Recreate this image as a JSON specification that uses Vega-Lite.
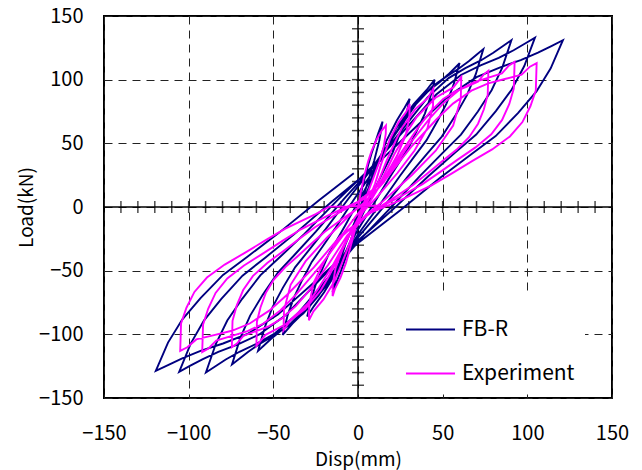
{
  "$schema": "https://vega.github.io/schema/vega-lite/v6.json",
  "width": 508,
  "height": 382,
  "autosize": {"type": "none"},
  "padding": {"left": 104, "top": 16, "right": 30, "bottom": 72},
  "background": "white",
  "config": {
    "view": {"stroke": "black", "strokeWidth": 2},
    "font": "Noto Sans CJK JP"
  },
  "datasets": {
    "curves": [
      {"s":"FB-R","x":0,"y":0},{"s":"FB-R","x":2,"y":12},{"s":"FB-R","x":4,"y":23},{"s":"FB-R","x":6,"y":33},{"s":"FB-R","x":8,"y":42},{"s":"FB-R","x":10,"y":50},{"s":"FB-R","x":12,"y":58},{"s":"FB-R","x":14.5,"y":67},
      {"s":"FB-R","x":12.6,"y":52.3},{"s":"FB-R","x":9.6,"y":36.5},{"s":"FB-R","x":5.65,"y":19.1},{"s":"FB-R","x":-0.25,"y":-7.4},{"s":"FB-R","x":-6.15,"y":-35.5},{"s":"FB-R","x":-10.1,"y":-50.4},{"s":"FB-R","x":-13.1,"y":-60.2},{"s":"FB-R","x":-15,"y":-67},
      {"s":"FB-R","x":-13.6,"y":-57},{"s":"FB-R","x":-12,"y":-48.2},{"s":"FB-R","x":-7.5,"y":-29.6},{"s":"FB-R","x":-1.35,"y":-10},{"s":"FB-R","x":7.75,"y":19.9},{"s":"FB-R","x":16.85,"y":52.2},{"s":"FB-R","x":23,"y":68.1},{"s":"FB-R","x":27.5,"y":77.9},{"s":"FB-R","x":30.5,"y":85},
      {"s":"FB-R","x":28.7,"y":73.7},{"s":"FB-R","x":26.6,"y":63.9},{"s":"FB-R","x":20.5,"y":42.9},{"s":"FB-R","x":12.35,"y":20.9},{"s":"FB-R","x":0.25,"y":-12.7},{"s":"FB-R","x":-11.85,"y":-49.1},{"s":"FB-R","x":-20,"y":-67},{"s":"FB-R","x":-26.1,"y":-78},{"s":"FB-R","x":-30,"y":-86},
      {"s":"FB-R","x":-27.7,"y":-72.8},{"s":"FB-R","x":-25.1,"y":-61.4},{"s":"FB-R","x":-17.6,"y":-37.8},{"s":"FB-R","x":-7.4,"y":-14.2},{"s":"FB-R","x":7.65,"y":22.3},{"s":"FB-R","x":22.7,"y":62.3},{"s":"FB-R","x":32.9,"y":80.8},{"s":"FB-R","x":40.4,"y":91.7},{"s":"FB-R","x":45.3,"y":100},
      {"s":"FB-R","x":42.6,"y":85.8},{"s":"FB-R","x":39.5,"y":73.4},{"s":"FB-R","x":30.5,"y":48.1},{"s":"FB-R","x":18.4,"y":22.6},{"s":"FB-R","x":0.4,"y":-16.8},{"s":"FB-R","x":-17.6,"y":-59.9},{"s":"FB-R","x":-29.7,"y":-79.8},{"s":"FB-R","x":-38.7,"y":-91.6},{"s":"FB-R","x":-44.5,"y":-100.5},
      {"s":"FB-R","x":-41.4,"y":-84.3},{"s":"FB-R","x":-37.7,"y":-70.7},{"s":"FB-R","x":-33,"y":-57.5},{"s":"FB-R","x":-27.3,"y":-43.1},{"s":"FB-R","x":-21,"y":-31.2},{"s":"FB-R","x":-13.15,"y":-16.1},{"s":"FB-R","x":-2.7,"y":5.3},{"s":"FB-R","x":7.75,"y":25.7},{"s":"FB-R","x":18.2,"y":48.9},{"s":"FB-R","x":28.65,"y":72},{"s":"FB-R","x":36.5,"y":85.1},{"s":"FB-R","x":42.8,"y":92.4},{"s":"FB-R","x":48.5,"y":98.4},{"s":"FB-R","x":53.2,"y":104},{"s":"FB-R","x":56.9,"y":108.8},{"s":"FB-R","x":60,"y":113},
      {"s":"FB-R","x":56.4,"y":95.9},{"s":"FB-R","x":52.3,"y":81.4},{"s":"FB-R","x":46.9,"y":67.5},{"s":"FB-R","x":40.4,"y":52.3},{"s":"FB-R","x":33.2,"y":39.6},{"s":"FB-R","x":24.3,"y":23.6},{"s":"FB-R","x":12.4,"y":1},{"s":"FB-R","x":0.5,"y":-20.6},{"s":"FB-R","x":-11.4,"y":-45.1},{"s":"FB-R","x":-23.3,"y":-69.6},{"s":"FB-R","x":-32.2,"y":-83.4},{"s":"FB-R","x":-39.4,"y":-91.2},{"s":"FB-R","x":-45.9,"y":-97.5},{"s":"FB-R","x":-51.3,"y":-103.5},{"s":"FB-R","x":-55.4,"y":-108.6},{"s":"FB-R","x":-59,"y":-113},
      {"s":"FB-R","x":-55,"y":-94.2},{"s":"FB-R","x":-50.4,"y":-78.4},{"s":"FB-R","x":-44.4,"y":-63.5},{"s":"FB-R","x":-37.05,"y":-47.2},{"s":"FB-R","x":-29.1,"y":-34.1},{"s":"FB-R","x":-19.1,"y":-17.4},{"s":"FB-R","x":-5.8,"y":6.3},{"s":"FB-R","x":7.5,"y":29},{"s":"FB-R","x":20.8,"y":54.8},{"s":"FB-R","x":34.1,"y":80.6},{"s":"FB-R","x":44.1,"y":94.8},{"s":"FB-R","x":52.1,"y":102.4},{"s":"FB-R","x":59.4,"y":108.6},{"s":"FB-R","x":65.4,"y":114.5},{"s":"FB-R","x":70,"y":119.6},{"s":"FB-R","x":74,"y":124},
      {"s":"FB-R","x":69.55,"y":104.3},{"s":"FB-R","x":64.35,"y":87.85},{"s":"FB-R","x":57.7,"y":72.25},{"s":"FB-R","x":49.5,"y":55.3},{"s":"FB-R","x":40.6,"y":41.55},{"s":"FB-R","x":29.5,"y":24.1},{"s":"FB-R","x":14.6,"y":-0.7},{"s":"FB-R","x":-0.2,"y":-24.3},{"s":"FB-R","x":-15,"y":-51.3},{"s":"FB-R","x":-29.9,"y":-78.3},{"s":"FB-R","x":-41,"y":-93.1},{"s":"FB-R","x":-49.9,"y":-101.1},{"s":"FB-R","x":-58.1,"y":-107.5},{"s":"FB-R","x":-64.8,"y":-113.6},{"s":"FB-R","x":-69.9,"y":-119},{"s":"FB-R","x":-74.4,"y":-123.6},
      {"s":"FB-R","x":-69.45,"y":-102.65},{"s":"FB-R","x":-63.7,"y":-85.3},{"s":"FB-R","x":-56.25,"y":-69},{"s":"FB-R","x":-47.2,"y":-51.3},{"s":"FB-R","x":-37.3,"y":-37.3},{"s":"FB-R","x":-24.9,"y":-19.4},{"s":"FB-R","x":-8.4,"y":6.1},{"s":"FB-R","x":8.1,"y":30.3},{"s":"FB-R","x":24.6,"y":58.2},{"s":"FB-R","x":41.1,"y":86.1},{"s":"FB-R","x":53.5,"y":101.2},{"s":"FB-R","x":63.4,"y":109},{"s":"FB-R","x":72.5,"y":115.1},{"s":"FB-R","x":79.9,"y":121.1},{"s":"FB-R","x":85.65,"y":126.4},{"s":"FB-R","x":90.6,"y":131},
      {"s":"FB-R","x":85.2,"y":109.5},{"s":"FB-R","x":78.9,"y":91.7},{"s":"FB-R","x":70.8,"y":75},{"s":"FB-R","x":60.8,"y":56.9},{"s":"FB-R","x":50,"y":42.5},{"s":"FB-R","x":36.5,"y":24.2},{"s":"FB-R","x":18.4,"y":-1.9},{"s":"FB-R","x":0.4,"y":-26.8},{"s":"FB-R","x":-17.6,"y":-55.4},{"s":"FB-R","x":-35.7,"y":-83.9},{"s":"FB-R","x":-49.2,"y":-99.4},{"s":"FB-R","x":-60,"y":-107.4},{"s":"FB-R","x":-70,"y":-113.7},{"s":"FB-R","x":-78.1,"y":-119.8},{"s":"FB-R","x":-84.4,"y":-125.3},{"s":"FB-R","x":-89.8,"y":-130},
      {"s":"FB-R","x":-84,"y":-107.6},{"s":"FB-R","x":-77.2,"y":-89.2},{"s":"FB-R","x":-68.4,"y":-72.1},{"s":"FB-R","x":-57.7,"y":-53.7},{"s":"FB-R","x":-46.1,"y":-39.3},{"s":"FB-R","x":-31.5,"y":-20.9},{"s":"FB-R","x":-12.1,"y":5.4},{"s":"FB-R","x":7.35,"y":30.4},{"s":"FB-R","x":26.8,"y":59.4},{"s":"FB-R","x":46.2,"y":88.3},{"s":"FB-R","x":60.8,"y":103.7},{"s":"FB-R","x":72.4,"y":111.3},{"s":"FB-R","x":83.1,"y":117.2},{"s":"FB-R","x":91.9,"y":123.1},{"s":"FB-R","x":98.7,"y":128.4},{"s":"FB-R","x":104.5,"y":133},
      {"s":"FB-R","x":98.2,"y":110.7},{"s":"FB-R","x":90.8,"y":92.3},{"s":"FB-R","x":81.4,"y":75.3},{"s":"FB-R","x":69.8,"y":56.9},{"s":"FB-R","x":57.2,"y":42.5},{"s":"FB-R","x":41.5,"y":24.1},{"s":"FB-R","x":20.5,"y":-2.1},{"s":"FB-R","x":-0.55,"y":-27.1},{"s":"FB-R","x":-21.6,"y":-55.9},{"s":"FB-R","x":-42.6,"y":-84.8},{"s":"FB-R","x":-58.3,"y":-100.1},{"s":"FB-R","x":-70.9,"y":-107.8},{"s":"FB-R","x":-82.5,"y":-113.7},{"s":"FB-R","x":-91.9,"y":-119.6},{"s":"FB-R","x":-99.3,"y":-124.8},{"s":"FB-R","x":-105.6,"y":-129.4},
      {"s":"FB-R","x":-98.8,"y":-107.3},{"s":"FB-R","x":-90.9,"y":-89},{"s":"FB-R","x":-80.7,"y":-72.1},{"s":"FB-R","x":-68.2,"y":-53.9},{"s":"FB-R","x":-54.6,"y":-39.6},{"s":"FB-R","x":-37.6,"y":-21.3},{"s":"FB-R","x":-15,"y":4.7},{"s":"FB-R","x":7.7,"y":29.4},{"s":"FB-R","x":30.4,"y":58.1},{"s":"FB-R","x":53,"y":86.7},{"s":"FB-R","x":70,"y":102},{"s":"FB-R","x":83.6,"y":109.5},{"s":"FB-R","x":96.1,"y":115.4},{"s":"FB-R","x":106.3,"y":121.2},{"s":"FB-R","x":114.2,"y":126.4},{"s":"FB-R","x":121,"y":131},
      {"s":"FB-R","x":113.8,"y":108.9},{"s":"FB-R","x":105.4,"y":90.8},{"s":"FB-R","x":94.6,"y":73.9},{"s":"FB-R","x":81.3,"y":55.7},{"s":"FB-R","x":66.9,"y":41.4},{"s":"FB-R","x":48.9,"y":23.3},{"s":"FB-R","x":24.8,"y":-2.7},{"s":"FB-R","x":0.8,"y":-27.4},{"s":"FB-R","x":-23.2,"y":-55.9},{"s":"FB-R","x":-47.3,"y":-84.5},{"s":"FB-R","x":-65.3,"y":-99.7},{"s":"FB-R","x":-79.7,"y":-107.2},{"s":"FB-R","x":-93,"y":-113},{"s":"FB-R","x":-103.8,"y":-118.9},{"s":"FB-R","x":-112.2,"y":-124.1},{"s":"FB-R","x":-119.4,"y":-128.6},
      {"s":"FB-R","x":-112.2,"y":-106.5},{"s":"FB-R","x":-103.8,"y":-88.4},{"s":"FB-R","x":-93,"y":-71.5},{"s":"FB-R","x":-79.7,"y":-53.3},{"s":"FB-R","x":-65.3,"y":-39},{"s":"FB-R","x":-47.3,"y":-20.9},{"s":"FB-R","x":-23.2,"y":5.1},{"s":"FB-R","x":-2.5,"y":26.5},

      {"s":"Experiment","x":0,"y":0},{"s":"Experiment","x":2,"y":14},{"s":"Experiment","x":4,"y":26},{"s":"Experiment","x":6,"y":36},{"s":"Experiment","x":8,"y":44},{"s":"Experiment","x":11,"y":53},{"s":"Experiment","x":14,"y":60},{"s":"Experiment","x":16.5,"y":64},
      {"s":"Experiment","x":16.4,"y":57.5},{"s":"Experiment","x":15.2,"y":47.6},{"s":"Experiment","x":12.6,"y":35.5},{"s":"Experiment","x":8.9,"y":22.1},{"s":"Experiment","x":4.5,"y":6.7},{"s":"Experiment","x":1.85,"y":-2},{"s":"Experiment","x":-0.8,"y":-13.05},{"s":"Experiment","x":-3.2,"y":-25.4},{"s":"Experiment","x":-5.55,"y":-36.8},{"s":"Experiment","x":-7.1,"y":-43.9},{"s":"Experiment","x":-10.4,"y":-55.6},{"s":"Experiment","x":-13.6,"y":-64.3},{"s":"Experiment","x":-15,"y":-70},
      {"s":"Experiment","x":-14.9,"y":-60.55},{"s":"Experiment","x":-13.2,"y":-47.8},{"s":"Experiment","x":-9.3,"y":-33.9},{"s":"Experiment","x":-4.1,"y":-19.5},{"s":"Experiment","x":2.3,"y":-3.3},{"s":"Experiment","x":6.2,"y":5.6},{"s":"Experiment","x":10,"y":18},{"s":"Experiment","x":13.4,"y":32.7},{"s":"Experiment","x":16.85,"y":46},{"s":"Experiment","x":19.1,"y":54},{"s":"Experiment","x":23.9,"y":66.5},{"s":"Experiment","x":28.5,"y":74.7},{"s":"Experiment","x":30.5,"y":81},
      {"s":"Experiment","x":30.35,"y":70.4},{"s":"Experiment","x":28.1,"y":56},{"s":"Experiment","x":23.1,"y":40.4},{"s":"Experiment","x":16.2,"y":24.2},{"s":"Experiment","x":7.9,"y":5.9},{"s":"Experiment","x":2.8,"y":-4.1},{"s":"Experiment","x":-2.2,"y":-18},{"s":"Experiment","x":-6.7,"y":-34.7},{"s":"Experiment","x":-11.15,"y":-49.6},{"s":"Experiment","x":-14.1,"y":-58.7},{"s":"Experiment","x":-20.4,"y":-72.6},{"s":"Experiment","x":-26.3,"y":-81.9},{"s":"Experiment","x":-29,"y":-89},
      {"s":"Experiment","x":-28.8,"y":-75.9},{"s":"Experiment","x":-26.1,"y":-59.2},{"s":"Experiment","x":-19.8,"y":-42.4},{"s":"Experiment","x":-11.4,"y":-25.5},{"s":"Experiment","x":-1.1,"y":-6.9},{"s":"Experiment","x":5.2,"y":3.1},{"s":"Experiment","x":11.4,"y":17.9},{"s":"Experiment","x":16.9,"y":36.4},{"s":"Experiment","x":22.45,"y":52.7},{"s":"Experiment","x":26.1,"y":62.5},{"s":"Experiment","x":33.8,"y":76.9},{"s":"Experiment","x":41.2,"y":85.5},{"s":"Experiment","x":44.5,"y":93},
      {"s":"Experiment","x":44.3,"y":79.3},{"s":"Experiment","x":41,"y":61.9},{"s":"Experiment","x":33.4,"y":44.3},{"s":"Experiment","x":23.3,"y":26.7},{"s":"Experiment","x":10.9,"y":7.3},{"s":"Experiment","x":3.35,"y":-3.2},{"s":"Experiment","x":-4.2,"y":-18.6},{"s":"Experiment","x":-10.8,"y":-37.9},{"s":"Experiment","x":-17.45,"y":-55},{"s":"Experiment","x":-21.9,"y":-65.2},{"s":"Experiment","x":-31.2,"y":-80.1},{"s":"Experiment","x":-40,"y":-89.2},{"s":"Experiment","x":-44,"y":-97},
      {"s":"Experiment","x":-43.7,"y":-80.9},{"s":"Experiment","x":-39.8,"y":-61.1},{"s":"Experiment","x":-30.9,"y":-42.5},{"s":"Experiment","x":-18.8,"y":-24.7},{"s":"Experiment","x":-4.1,"y":-5.3},{"s":"Experiment","x":4.8,"y":4.8},{"s":"Experiment","x":13.75,"y":20.9},{"s":"Experiment","x":21.6,"y":41.8},{"s":"Experiment","x":29.5,"y":60.1},{"s":"Experiment","x":34.75,"y":70.9},{"s":"Experiment","x":45.8,"y":85.8},{"s":"Experiment","x":56.3,"y":93.9},{"s":"Experiment","x":61,"y":102},
      {"s":"Experiment","x":60.7,"y":84.9},{"s":"Experiment","x":56.2,"y":64},{"s":"Experiment","x":45.9,"y":44.2},{"s":"Experiment","x":32,"y":25.3},{"s":"Experiment","x":15,"y":4.8},{"s":"Experiment","x":4.7,"y":-6},{"s":"Experiment","x":-5.55,"y":-23},{"s":"Experiment","x":-14.6,"y":-45.1},{"s":"Experiment","x":-23.7,"y":-64.5},{"s":"Experiment","x":-29.75,"y":-76},{"s":"Experiment","x":-42.5,"y":-91.9},{"s":"Experiment","x":-54.6,"y":-100.4},{"s":"Experiment","x":-60,"y":-109},
      {"s":"Experiment","x":-59.7,"y":-90.1},{"s":"Experiment","x":-57.6,"y":-78.9},{"s":"Experiment","x":-54.5,"y":-67.6},{"s":"Experiment","x":-49.7,"y":-57},{"s":"Experiment","x":-42.9,"y":-47.2},{"s":"Experiment","x":-35.3,"y":-38.3},{"s":"Experiment","x":-27.1,"y":-28.3},{"s":"Experiment","x":-19.6,"y":-19.4},{"s":"Experiment","x":-7.9,"y":-8},{"s":"Experiment","x":3.7,"y":2.4},{"s":"Experiment","x":15.35,"y":19.7},{"s":"Experiment","x":25.6,"y":42.9},{"s":"Experiment","x":35.9,"y":63.1},{"s":"Experiment","x":42.75,"y":74.9},{"s":"Experiment","x":50.3,"y":84.8},{"s":"Experiment","x":57.1,"y":90.6},{"s":"Experiment","x":64,"y":94.4},{"s":"Experiment","x":70.8,"y":98.3},{"s":"Experiment","x":74.3,"y":104.2},{"s":"Experiment","x":77,"y":107},
      {"s":"Experiment","x":76.6,"y":88},{"s":"Experiment","x":74.35,"y":76.75},{"s":"Experiment","x":70.9,"y":65.4},{"s":"Experiment","x":65.6,"y":54.8},{"s":"Experiment","x":58.1,"y":44.9},{"s":"Experiment","x":49.7,"y":36},{"s":"Experiment","x":40.6,"y":26},{"s":"Experiment","x":32.3,"y":17},{"s":"Experiment","x":19.4,"y":5.6},{"s":"Experiment","x":6.55,"y":-4.9},{"s":"Experiment","x":-6.3,"y":-22.3},{"s":"Experiment","x":-17.7,"y":-45.6},{"s":"Experiment","x":-29.05,"y":-65.9},{"s":"Experiment","x":-36.6,"y":-77.7},{"s":"Experiment","x":-45,"y":-87.6},{"s":"Experiment","x":-52.5,"y":-93.5},{"s":"Experiment","x":-60.1,"y":-97.4},{"s":"Experiment","x":-67.7,"y":-101.2},{"s":"Experiment","x":-71.5,"y":-107.2},{"s":"Experiment","x":-74.5,"y":-110},
      {"s":"Experiment","x":-74.1,"y":-89.35},{"s":"Experiment","x":-71.6,"y":-77.3},{"s":"Experiment","x":-67.8,"y":-65.2},{"s":"Experiment","x":-62,"y":-54.1},{"s":"Experiment","x":-53.6,"y":-44},{"s":"Experiment","x":-44.4,"y":-34.9},{"s":"Experiment","x":-34.4,"y":-24.7},{"s":"Experiment","x":-25.2,"y":-15.7},{"s":"Experiment","x":-11,"y":-4.2},{"s":"Experiment","x":3.2,"y":6.1},{"s":"Experiment","x":17.35,"y":24.1},{"s":"Experiment","x":29.9,"y":48.5},{"s":"Experiment","x":42.4,"y":69.6},{"s":"Experiment","x":50.75,"y":81.9},{"s":"Experiment","x":59.9,"y":92},{"s":"Experiment","x":68.3,"y":97.8},{"s":"Experiment","x":76.6,"y":101.4},{"s":"Experiment","x":85,"y":105},{"s":"Experiment","x":89.2,"y":111.2},{"s":"Experiment","x":92.5,"y":114},
      {"s":"Experiment","x":92,"y":93},{"s":"Experiment","x":89.3,"y":80.7},{"s":"Experiment","x":85.1,"y":68.4},{"s":"Experiment","x":78.7,"y":57.1},{"s":"Experiment","x":69.4,"y":46.8},{"s":"Experiment","x":59.3,"y":37.6},{"s":"Experiment","x":48.2,"y":27.2},{"s":"Experiment","x":38.1,"y":18},{"s":"Experiment","x":22.4,"y":6.3},{"s":"Experiment","x":6.7,"y":-4.2},{"s":"Experiment","x":-9,"y":-22.5},{"s":"Experiment","x":-22.8,"y":-47.3},{"s":"Experiment","x":-36.65,"y":-68.8},{"s":"Experiment","x":-45.9,"y":-81.3},{"s":"Experiment","x":-56,"y":-91.7},{"s":"Experiment","x":-65.2,"y":-97.5},{"s":"Experiment","x":-74.5,"y":-101.2},{"s":"Experiment","x":-83.7,"y":-104.9},{"s":"Experiment","x":-88.3,"y":-111.1},{"s":"Experiment","x":-92,"y":-114},
      {"s":"Experiment","x":-91.5,"y":-92.4},{"s":"Experiment","x":-88.5,"y":-79.95},{"s":"Experiment","x":-84.1,"y":-67.5},{"s":"Experiment","x":-77.2,"y":-56.1},{"s":"Experiment","x":-67.3,"y":-45.9},{"s":"Experiment","x":-56.45,"y":-36.8},{"s":"Experiment","x":-44.6,"y":-26.6},{"s":"Experiment","x":-33.7,"y":-17.5},{"s":"Experiment","x":-17,"y":-6.2},{"s":"Experiment","x":-0.2,"y":4},{"s":"Experiment","x":16.6,"y":22.2},{"s":"Experiment","x":31.4,"y":47.2},{"s":"Experiment","x":46.25,"y":68.7},{"s":"Experiment","x":56.1,"y":81.2},{"s":"Experiment","x":67,"y":91.4},{"s":"Experiment","x":76.9,"y":97.1},{"s":"Experiment","x":86.7,"y":100.5},{"s":"Experiment","x":96.6,"y":103.9},{"s":"Experiment","x":101.55,"y":110.2},{"s":"Experiment","x":105.5,"y":113},
      {"s":"Experiment","x":105,"y":91.5},{"s":"Experiment","x":101.8,"y":79.1},{"s":"Experiment","x":97.1,"y":66.7},{"s":"Experiment","x":89.7,"y":55.4},{"s":"Experiment","x":79.2,"y":45.2},{"s":"Experiment","x":67.6,"y":36.2},{"s":"Experiment","x":55,"y":26},{"s":"Experiment","x":43.4,"y":16.95},{"s":"Experiment","x":25.5,"y":5.65},{"s":"Experiment","x":7.6,"y":-4.5},{"s":"Experiment","x":-10.3,"y":-22.6},{"s":"Experiment","x":-26.1,"y":-47.5},{"s":"Experiment","x":-41.85,"y":-68.9},{"s":"Experiment","x":-52.4,"y":-81.4},{"s":"Experiment","x":-63.95,"y":-91.5},{"s":"Experiment","x":-74.5,"y":-97.2},{"s":"Experiment","x":-85,"y":-100.6},{"s":"Experiment","x":-95.5,"y":-104},{"s":"Experiment","x":-100.8,"y":-110.2},{"s":"Experiment","x":-105,"y":-113},
      {"s":"Experiment","x":-104.5,"y":-91.5},{"s":"Experiment","x":-101.3,"y":-79.1},{"s":"Experiment","x":-96.6,"y":-66.7},{"s":"Experiment","x":-89.2,"y":-55.4},{"s":"Experiment","x":-78.7,"y":-45.2},{"s":"Experiment","x":-67.1,"y":-36.2},{"s":"Experiment","x":-54.5,"y":-26},{"s":"Experiment","x":-42.9,"y":-16.95},{"s":"Experiment","x":-25,"y":-5.65},{"s":"Experiment","x":-17,"y":0.3},{"s":"Experiment","x":0,"y":0.8},{"s":"Experiment","x":19,"y":1.2}
    ],
    "ticks": [
      {"t":-140},{"t":-130},{"t":-120},{"t":-110},{"t":-100},{"t":-90},{"t":-80},{"t":-70},{"t":-60},{"t":-50},{"t":-40},{"t":-30},{"t":-20},{"t":-10},{"t":0},
      {"t":10},{"t":20},{"t":30},{"t":40},{"t":50},{"t":60},{"t":70},{"t":80},{"t":90},{"t":100},{"t":110},{"t":120},{"t":130},{"t":140}
    ]
  },
  "layer": [
    {
      "data": {"values": [{}]},
      "mark": {"type": "rule", "color": "black", "strokeWidth": 1.5},
      "encoding": {
        "x": {"datum": 0, "type": "quantitative", "title": "Disp(mm)",
          "scale": {"domain": [-150, 150], "nice": false, "zero": false},
          "axis": {
            "title": "Disp(mm)", "values": [-150, -100, -50, 0, 50, 100, 150],
            "domain": false, "ticks": false, "tickSize": 0,
            "labelFontSize": 20, "labelPadding": 25, "labelFlush": false, "labelOverlap": false, "labelColor": "black",
            "titleFontSize": 19, "titleFontWeight": "normal", "titleColor": "black", "titlePadding": 7,
            "grid": true, "gridDash": [8, 6], "gridColor": "#222222", "gridWidth": 1, "gridOpacity": 1
          }
        }
      }
    },
    {
      "data": {"values": [{}]},
      "mark": {"type": "rule", "color": "black", "strokeWidth": 1.5},
      "encoding": {
        "y": {"datum": 0, "type": "quantitative", "title": "Load(kN)",
          "scale": {"domain": [-150, 150], "nice": false, "zero": false},
          "axis": {
            "title": "Load(kN)", "values": [-150, -100, -50, 0, 50, 100, 150],
            "domain": false, "ticks": false, "tickSize": 0,
            "labelFontSize": 20, "labelPadding": 21, "labelOverlap": false, "labelColor": "black", "labelFlush": false,
            "titleFontSize": 19, "titleFontWeight": "normal", "titleColor": "black", "titlePadding": 2,
            "grid": true, "gridDash": [8, 6], "gridColor": "#222222", "gridWidth": 1, "gridOpacity": 1
          }
        }
      }
    },
    {
      "data": {"name": "ticks"},
      "mark": {"type": "tick", "orient": "vertical", "size": 12, "thickness": 1.5, "color": "black"},
      "encoding": {
        "x": {"field": "t", "type": "quantitative", "title": "Disp(mm)"},
        "y": {"datum": 0, "type": "quantitative", "title": "Load(kN)"}
      }
    },
    {
      "data": {"name": "ticks"},
      "mark": {"type": "tick", "orient": "horizontal", "size": 12, "thickness": 1.5, "color": "black"},
      "encoding": {
        "y": {"field": "t", "type": "quantitative", "title": "Load(kN)"},
        "x": {"datum": 0, "type": "quantitative", "title": "Disp(mm)"}
      }
    },
    {
      "data": {"name": "curves"},
      "transform": [{"filter": "datum.s === 'FB-R'"}],
      "mark": {"type": "line", "strokeWidth": 1.9},
      "encoding": {
        "x": {"field": "x", "type": "quantitative", "title": "Disp(mm)"},
        "y": {"field": "y", "type": "quantitative", "title": "Load(kN)"},
        "order": {"value": null},
        "color": {"field": "s", "type": "nominal",
          "scale": {"domain": ["FB-R", "Experiment"], "range": ["#000080", "#FF00FF"]},
          "legend": {"title": null, "orient": "none", "legendX": 291, "legendY": 278, "fillColor": "white", "padding": 10,
            "symbolType": "stroke", "symbolSize": 2401, "symbolStrokeWidth": 2, "labelFontSize": 21, "labelColor": "black",
            "labelOffset": 6, "rowPadding": 8}
        }
      }
    },
    {
      "data": {"name": "curves"},
      "transform": [{"filter": "datum.s === 'Experiment'"}],
      "mark": {"type": "line", "strokeWidth": 1.9},
      "encoding": {
        "x": {"field": "x", "type": "quantitative", "title": "Disp(mm)"},
        "y": {"field": "y", "type": "quantitative", "title": "Load(kN)"},
        "order": {"value": null},
        "color": {"field": "s", "type": "nominal"}
      }
    }
  ]
}
